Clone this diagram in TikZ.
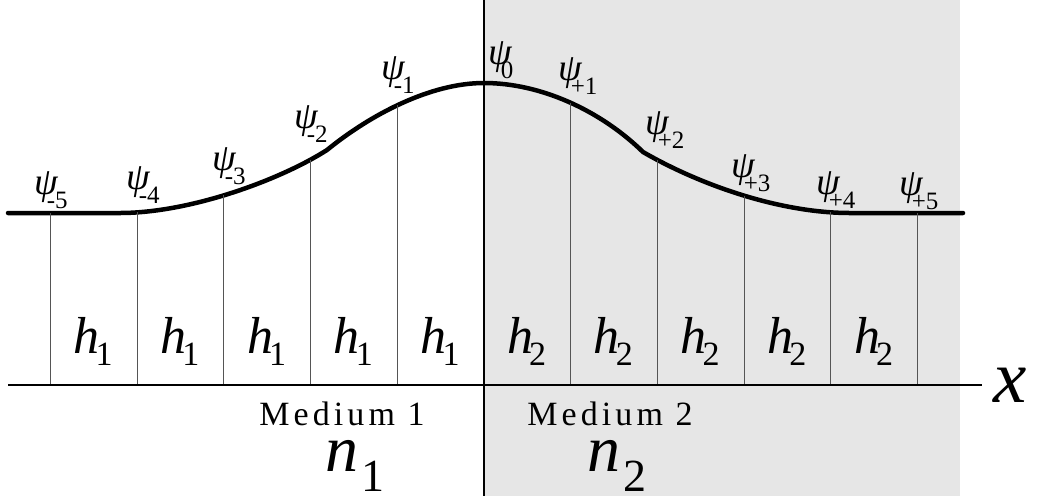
\documentclass[tikz,border=0pt]{standalone}
\usepackage{fontspec}
\setmainfont{Liberation Serif}[ItalicFont={Liberation Serif Italic},
  BoldFont={Liberation Serif Bold}]
\usepackage{tikz}
\usetikzlibrary{arrows.meta,calc,intersections}
\definecolor{mediumGray}{HTML}{E6E6E6}
\definecolor{gridGray}{HTML}{555555}
\newcommand{\psiLabel}[1]{{\fontsize{38}{38}\selectfont\itshape ψ}\kern-11pt\raisebox{-14pt}{\fontsize{25}{25}\selectfont #1}}
\newcommand{\hLabel}[1]{{\fontsize{52}{52}\selectfont\itshape h}\kern-4pt\raisebox{-12pt}{\fontsize{34}{34}\selectfont #1}}
\newcommand{\nLabel}[1]{{\fontsize{66}{66}\selectfont\itshape n}\kern3pt\raisebox{-20pt}{\fontsize{46}{46}\selectfont #1}}

\begin{document}
\begin{tikzpicture}[x=1pt,y=-1pt,
    gridLine/.style={gridGray,line width=1.1pt},
    waveLine/.style={line width=4.5pt,line cap=round},
    lab/.style={inner sep=0pt,anchor=base west}]
  \useasboundingbox (0,0) rectangle (1040,496);
  \fill[mediumGray] (484,0) rectangle (960,496);
  \coordinate (axisL) at (8,385);
  \coordinate (axisR) at (982,385);
  % field profile
  \draw[waveLine,name path=wave] (8,213) -- (120,213)
    .. controls (190,213) and (280,180) .. (327,150)
    .. controls (370,115) and (430,83) .. (484,83)
    .. controls (540,83) and (600,110) .. (643,152)
    .. controls (700,185) and (780,213) .. (850,213) -- (963,213);
  \foreach \k in {-5,-4,-3,-2,-1,1,2,3,4,5} {
    \path[name path=probe] (484+86.7*\k,0) -- (484+86.7*\k,400);
    \draw[gridLine,name intersections={of=wave and probe,by=top}]
      (top) -- (top |- axisL);
  }
  \draw[line width=1.8pt] (axisL) -- (axisR);
  \draw[line width=2.5pt] (484,0) -- (484,496);
  \node[lab] (xLabel) at (993,402) {\fontsize{75}{75}\selectfont\itshape x};
  % sample labels
  \foreach \px/\py/\sub [count=\i] in {34/194/-5,126/189/-4,212/170/-3,
      294/128/-2,381/79/-1,488/64/0,558/80/+1,645/134/+2,731/177/+3,
      816/194/+4,899/195/+5}
    \node[lab] (psi\i) at (\px,\py) {\psiLabel{\sub}};
  \foreach \k in {0,...,4} {
    \node[lab] (hLeft\k) at (73.5+86.7*\k,353) {\hLabel{1}};
    \node[lab] (hRight\k) at (507+86.7*\k,353) {\hLabel{2}};
  }
  \node[anchor=base,inner sep=0pt] (medOne) at (342,425)
    {\fontsize{34}{34}\selectfont\addfontfeature{LetterSpace=12}Medium 1};
  \node[anchor=base,inner sep=0pt] (medTwo) at (610,425)
    {\fontsize{34}{34}\selectfont\addfontfeature{LetterSpace=12}Medium 2};
  \node[lab] (nOne) at (325,471) {\nLabel{1}};
  \node[lab] (nTwo) at (587,471) {\nLabel{2}};
\end{tikzpicture}
\end{document}
